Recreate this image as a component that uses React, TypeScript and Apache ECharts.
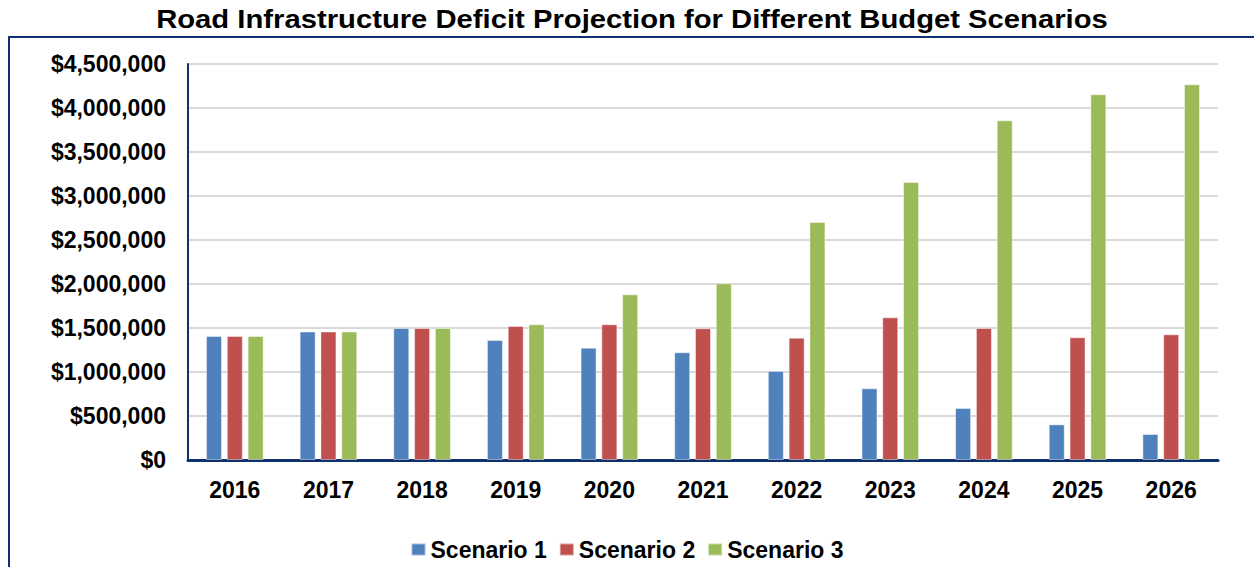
import React, { useEffect, useRef } from "react";
import * as echarts from "echarts";

const years = ["2016", "2017", "2018", "2019", "2020", "2021", "2022", "2023", "2024", "2025", "2026"];
const scenario1 = [1410000, 1460000, 1500000, 1365000, 1276000, 1224000, 1011000, 814000, 591000, 405000, 295000];
const scenario2 = [1410000, 1460000, 1500000, 1523000, 1542000, 1497000, 1390000, 1621000, 1500000, 1394000, 1428000];
const scenario3 = [1410000, 1460000, 1500000, 1542000, 1883000, 2008000, 2705000, 3159000, 3860000, 4156000, 4269000];
const seriesNames = ["Scenario 1", "Scenario 2", "Scenario 3"];
const colors = ["#4F81BD", "#C0504D", "#9BBB59"];
const titleText = "Road Infrastructure Deficit Projection for Different Budget Scenarios";

const FONT = "'Liberation Sans', Arial, sans-serif";
const NAVY = "#10306E";

export default function App() {
  const ref = useRef<HTMLDivElement>(null);
  useEffect(() => {
    if (!ref.current) return;
    const chart = echarts.init(ref.current, undefined, { renderer: "svg" });
    const data = [scenario1, scenario2, scenario3];
    chart.setOption({
      animation: false,
      backgroundColor: "#ffffff",
      graphic: [
        {
          type: "rect",
          shape: { x: 9, y: 37, width: 1300, height: 600 },
          style: { fill: "none", stroke: NAVY, lineWidth: 2 },
          silent: true,
        },
        {
          type: "text",
          x: 632,
          y: 19,
          scaleX: 1.17,
          silent: true,
          style: {
            text: titleText,
            fontFamily: FONT,
            fontWeight: "bold",
            fontSize: 25,
            fill: "#000",
            textAlign: "center",
            textVerticalAlign: "middle",
          },
        },
      ],
      legend: {
        bottom: 1,
        left: "center",
        itemWidth: 14,
        itemHeight: 12,
        itemGap: 12,
        icon: "rect",
        textStyle: { fontFamily: FONT, fontWeight: "bold", fontSize: 23, color: "#000" },
        data: seriesNames,
      },
      grid: { left: 188, right: 36, top: 64, bottom: 107, containLabel: false },
      xAxis: {
        type: "category",
        data: years,
        axisLine: { lineStyle: { color: NAVY, width: 3 } },
        axisTick: { show: false },
        axisLabel: {
          margin: 18,
          fontFamily: FONT,
          fontWeight: "bold",
          fontSize: 23,
          color: "#000",
        },
      },
      yAxis: {
        type: "value",
        min: 0,
        max: 4500000,
        interval: 500000,
        axisLine: { show: true, lineStyle: { color: NAVY, width: 2 } },
        axisTick: { show: false },
        splitLine: { lineStyle: { color: "#D9D9D9", width: 2 } },
        axisLabel: {
          margin: 22,
          fontFamily: FONT,
          fontWeight: "bold",
          fontSize: 23,
          color: "#000",
          formatter: (v: number) => "$" + v.toLocaleString("en-US"),
        },
      },
      series: data.map((d, i) => ({
        name: seriesNames[i],
        type: "bar",
        data: d,
        barWidth: 16,
        barGap: "30%",
        itemStyle: { color: colors[i], borderColor: "rgba(255,255,255,0.45)", borderWidth: 1 },
      })),
    });
    return () => chart.dispose();
  }, []);
  return (
    <div
      ref={ref}
      style={{ position: "absolute", left: 0, top: 0, width: 1254, height: 567 }}
    />
  );
}
